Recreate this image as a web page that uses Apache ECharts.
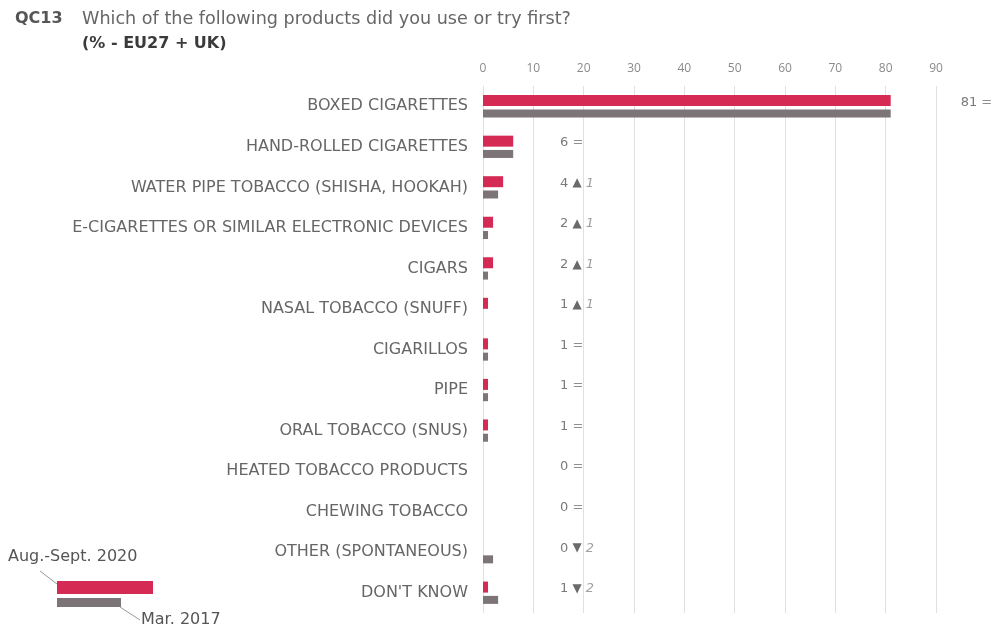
<!DOCTYPE html>
<html>
<head>
<meta charset="utf-8">
<script src="https://cdn.jsdelivr.net/npm/echarts@6/dist/echarts.min.js"></script>
<style>
  html, body { margin: 0; padding: 0; background: #fff; }
  #chart { width: 1006px; height: 631px; }
</style>
</head>
<body>
<div id="chart"></div>
<script>
// Product categories, top to bottom
const categories = [
  'BOXED CIGARETTES',
  'HAND-ROLLED CIGARETTES',
  'WATER PIPE TOBACCO (SHISHA, HOOKAH)',
  'E-CIGARETTES OR SIMILAR ELECTRONIC DEVICES',
  'CIGARS',
  'NASAL TOBACCO (SNUFF)',
  'CIGARILLOS',
  'PIPE',
  'ORAL TOBACCO (SNUS)',
  'HEATED TOBACCO PRODUCTS',
  'CHEWING TOBACCO',
  'OTHER (SPONTANEOUS)',
  "DON'T KNOW"
];
// Aug.-Sept. 2020 wave (%)
const wave2020 = [81, 6, 4, 2, 2, 1, 1, 1, 1, 0, 0, 0, 1];
// Mar. 2017 wave (%)
const wave2017 = [81, 6, 3, 1, 1, 0, 1, 1, 1, 0, 0, 2, 3];
// Value axis ticks
const axisMin = 0;
const axisMax = 90;
const axisStep = 10;

const RED = '#d42a53';
const GREY = '#7d7478';
const FONT = '"DejaVu Sans", sans-serif';
const AXIS_FONT = '"Open Sans", "DejaVu Sans", sans-serif';

const chart = echarts.init(document.getElementById('chart'), null, { renderer: 'canvas' });

// Value + change column text
function labelText(i) {
  const cur = wave2020[i];
  const diff = cur - wave2017[i];
  if (diff > 0) return `{v|${cur}} {up|▲} {d|${diff}}`;
  if (diff < 0) return `{v|${cur}} {up|▼} {d|${-diff}}`;
  return `{v|${cur}} {eq|=}`;
}

const columnX = 560; // default x of the value column

const option = {
  animation: false,
  backgroundColor: '#fff',
  grid: { left: 483, right: 70, top: 86, bottom: 18, containLabel: false },
  xAxis: {
    type: 'value',
    position: 'top',
    min: axisMin,
    max: axisMax,
    interval: axisStep,
    axisLine: { show: false },
    axisTick: { show: false },
    axisLabel: { color: '#8a8a8a', fontSize: 12, fontFamily: AXIS_FONT, margin: 11 },
    splitLine: { show: true, lineStyle: { color: '#e0e0e0', width: 1 } }
  },
  yAxis: {
    type: 'category',
    data: categories,
    inverse: true,
    axisLine: { show: false },
    axisTick: { show: false },
    splitLine: { show: false },
    axisLabel: { color: '#666', fontSize: 16, fontFamily: FONT, margin: 15 }
  },
  series: [
    {
      name: 'Aug.-Sept. 2020',
      type: 'bar',
      data: wave2020,
      barWidth: 11,
      barGap: '30%',
      itemStyle: { color: RED },
      z: 3
    },
    {
      name: 'Mar. 2017',
      type: 'bar',
      data: wave2017,
      barWidth: 8,
      barGap: '30%',
      itemStyle: { color: GREY },
      z: 3
    },
    {
      type: 'custom',
      data: categories.map((c, i) => [i]),
      encode: { y: 0 },
      renderItem: function (params, api) {
        const i = api.value(0);
        const end = api.coord([wave2020[i], i]);
        const x = end[0] + 20 > columnX ? end[0] + 70 : columnX;
        return {
          type: 'text',
          x: x,
          y: end[1] - 4,
          style: {
            text: labelText(i),
            verticalAlign: 'middle',
            align: 'left',
            fontFamily: FONT,
            fontSize: 13,
            fill: '#7a7a7a',
            rich: {
              v: { fontSize: 13, fill: '#7a7a7a', fontFamily: FONT },
              eq: { fontSize: 13, fill: '#8f8f8f', fontFamily: FONT },
              up: { fontSize: 12, fill: '#6a6a6a', fontFamily: FONT },
              d: { fontSize: 13, fill: '#a0a0a0', fontStyle: 'italic', fontFamily: FONT }
            }
          }
        };
      },
      z: 4
    }
  ],
  graphic: [
    { type: 'text', left: 15, top: 11, style: { text: 'QC13', font: `bold 16px ${FONT}`, fill: '#555' } },
    { type: 'text', left: 82, top: 10, style: { text: 'Which of the following products did you use or try first?', font: `17.6px ${FONT}`, fill: '#666' } },
    { type: 'text', left: 82, top: 36, style: { text: '(% - EU27 + UK)', font: `bold 16px ${FONT}`, fill: '#3a3a3a' } },
    // legend swatches
    { type: 'rect', shape: { x: 57, y: 581, width: 96, height: 13 }, style: { fill: RED } },
    { type: 'rect', shape: { x: 57, y: 598, width: 64, height: 9 }, style: { fill: GREY } },
    { type: 'line', shape: { x1: 40, y1: 571, x2: 57, y2: 584 }, style: { stroke: '#999', lineWidth: 1 } },
    { type: 'line', shape: { x1: 120, y1: 607, x2: 140, y2: 620 }, style: { stroke: '#999', lineWidth: 1 } },
    { type: 'text', left: 8, top: 549, style: { text: 'Aug.-Sept. 2020', font: `16px ${FONT}`, fill: '#555' } },
    { type: 'text', left: 141, top: 612, style: { text: 'Mar. 2017', font: `16px ${FONT}`, fill: '#555' } }
  ]
};

chart.setOption(option);
</script>
</body>
</html>
